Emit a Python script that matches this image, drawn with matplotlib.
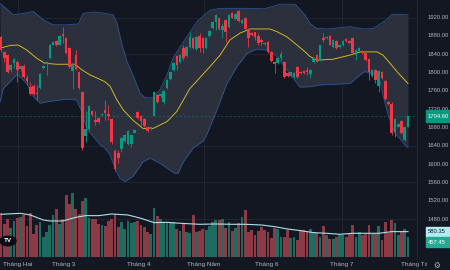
import numpy as np
import matplotlib
matplotlib.use("Agg")
import matplotlib.pyplot as plt
from matplotlib.transforms import blended_transform_factory
from matplotlib.patches import Rectangle, Circle

# daily candles (index 0 = first visible session)
opens = [1878, 1845, 1838, 1805, 1820, 1824, 1807, 1815, 1789, 1769,
         1771, 1756, 1767, 1809, 1818, 1832, 1861, 1869, 1861, 1883,
         1876, 1854, 1803, 1838, 1802, 1757, 1662, 1677, 1716, 1696,
         1700, 1708, 1718, 1709, 1698, 1629, 1624, 1633, 1651, 1643,
         1643, 1669, 1713, 1704, 1699, 1680, 1677, 1706, 1751, 1749,
         1736, 1766, 1786, 1806, 1835, 1822, 1853, 1835, 1856, 1876,
         1851, 1880, 1875, 1854, 1880, 1898, 1911, 1918, 1893, 1915,
         1900, 1929, 1917, 1934, 1907, 1920, 1896, 1886, 1888, 1880,
         1871, 1865, 1867, 1845, 1824, 1820, 1831, 1824, 1798, 1793,
         1791, 1813, 1802, 1803, 1806, 1796, 1822, 1838, 1827, 1875,
         1875, 1880, 1856, 1869, 1856, 1860, 1873, 1869, 1875, 1838,
         1848, 1847, 1842, 1830, 1793, 1806, 1771, 1802, 1781, 1736,
         1731, 1671, 1682, 1694, 1653, 1682]
highs = [1882, 1848, 1841, 1818, 1832, 1827, 1817, 1818, 1795, 1779,
         1774, 1773, 1799, 1817, 1825, 1862, 1869, 1871, 1882, 1899,
         1878, 1856, 1820, 1849, 1804, 1760, 1716, 1729, 1718, 1716,
         1702, 1712, 1740, 1729, 1700, 1632, 1631, 1660, 1666, 1674,
         1666, 1677, 1715, 1707, 1701, 1682, 1682, 1759, 1753, 1754,
         1762, 1786, 1802, 1822, 1838, 1840, 1860, 1858, 1889, 1878,
         1880, 1886, 1877, 1877, 1893, 1913, 1928, 1920, 1907, 1917,
         1928, 1931, 1930, 1936, 1917, 1922, 1898, 1888, 1889, 1886,
         1875, 1867, 1869, 1847, 1825, 1833, 1847, 1826, 1800, 1802,
         1800, 1815, 1804, 1805, 1813, 1808, 1833, 1840, 1861, 1886,
         1880, 1882, 1874, 1871, 1862, 1871, 1875, 1871, 1877, 1851,
         1856, 1849, 1844, 1832, 1808, 1808, 1805, 1804, 1783, 1738,
         1736, 1701, 1689, 1696, 1682, 1706]
lows = [1845, 1824, 1798, 1802, 1809, 1780, 1804, 1788, 1773, 1750,
        1751, 1740, 1765, 1807, 1795, 1830, 1859, 1858, 1859, 1864,
        1840, 1810, 1765, 1806, 1765, 1630, 1648, 1675, 1705, 1685,
        1689, 1706, 1696, 1696, 1645, 1584, 1602, 1627, 1649, 1641,
        1638, 1667, 1699, 1685, 1682, 1670, 1675, 1704, 1734, 1747,
        1731, 1764, 1784, 1804, 1806, 1820, 1827, 1833, 1853, 1851,
        1849, 1845, 1842, 1852, 1878, 1896, 1893, 1893, 1876, 1866,
        1898, 1918, 1915, 1910, 1905, 1894, 1856, 1880, 1871, 1861,
        1860, 1860, 1843, 1823, 1798, 1818, 1827, 1789, 1790, 1791,
        1789, 1789, 1796, 1797, 1795, 1789, 1820, 1822, 1825, 1867,
        1873, 1859, 1854, 1852, 1854, 1858, 1867, 1862, 1840, 1827,
        1846, 1841, 1825, 1784, 1791, 1776, 1758, 1785, 1740, 1729,
        1664, 1660, 1680, 1665, 1651, 1680]
closes = [1849, 1831, 1802, 1816, 1829, 1806, 1814, 1791, 1781, 1752,
          1754, 1754, 1797, 1815, 1822, 1860, 1867, 1860, 1880, 1880,
          1842, 1813, 1818, 1808, 1767, 1635, 1677, 1727, 1707, 1693,
          1691, 1710, 1712, 1706, 1648, 1589, 1613, 1658, 1664, 1672,
          1664, 1675, 1701, 1694, 1684, 1672, 1680, 1757, 1736, 1752,
          1760, 1784, 1800, 1820, 1816, 1838, 1832, 1856, 1878, 1853,
          1878, 1853, 1853, 1875, 1891, 1911, 1926, 1895, 1902, 1889,
          1926, 1920, 1928, 1912, 1915, 1896, 1876, 1882, 1878, 1864,
          1866, 1862, 1845, 1825, 1818, 1831, 1840, 1791, 1792, 1800,
          1798, 1791, 1798, 1799, 1802, 1806, 1831, 1824, 1859, 1870,
          1878, 1861, 1872, 1854, 1860, 1869, 1869, 1864, 1842, 1849,
          1854, 1843, 1827, 1802, 1806, 1784, 1803, 1787, 1742, 1731,
          1667, 1699, 1687, 1667, 1680, 1704.6]
volumes = [1000, 749, 871, 657, 825, 886, 909, 962, 710, 1000,
           520, 733, 810, 466, 566, 733, 962, 1092, 749, 871,
           1420, 1214, 1458, 1100, 978, 1283, 1344, 886, 871, 871,
           749, 733, 718, 825, 871, 985, 695, 794, 642, 825,
           772, 794, 825, 733, 695, 566, 527, 1130, 947, 871,
           794, 794, 794, 810, 642, 596, 749, 581, 560, 962,
           581, 596, 642, 619, 718, 794, 848, 848, 871, 657,
           794, 596, 672, 772, 924, 1077, 581, 619, 505, 596,
           695, 619, 581, 443, 657, 642, 466, 466, 619, 443,
           466, 390, 619, 619, 566, 642, 581, 543, 466, 710,
           505, 413, 413, 466, 505, 505, 466, 543, 733, 466,
           566, 505, 520, 733, 520, 527, 718, 390, 810, 543,
           848, 787, 505, 566, 642, 457.45]

# Bollinger bands (x = candle index)
bb_up_x = [-0.3, 3.8, 6.9, 10, 13, 16, 20, 23.8, 25.2, 28.4, 32, 34.4, 35.6, 37.2,
           38.7, 40.5, 42.7, 44.2, 46.7, 48.8, 51, 52.8, 55, 57.1, 60.2, 62.7, 64.2,
           67.3, 75, 81, 85.7, 90.3, 91.8, 93.4, 94.9, 97, 100.1, 107.2, 111.2, 114.3,
           118.5, 120, 125]
bb_up = [1951, 1926, 1929, 1933, 1915, 1904, 1904, 1906, 1929, 1932, 1929, 1926, 1908, 1860,
         1824, 1795, 1755, 1745, 1745, 1762, 1795, 1831, 1856, 1878, 1911, 1927, 1936,
         1940, 1940, 1939, 1949, 1949, 1938, 1925, 1907, 1896, 1895, 1900, 1895, 1896,
         1915, 1927, 1926]
bb_lo_x = [-0.3, 0.7, 2.8, 4.8, 5.8, 7.9, 10, 12, 14, 16, 18.1, 20.2, 23.2, 24.8, 26.3,
           28.4, 30.4, 31.9, 33.5, 35, 36.5, 38.1, 40.5, 43.6, 45.8, 48.8, 51.9, 53.4,
           54.4, 56, 59, 62, 63.2, 66.3, 69.4, 72.5, 75.6, 78.6, 81.7, 84.8, 87.8, 91.8,
           94.9, 98, 102, 107.2, 110.3, 111.8, 114.9, 116.4, 117.3, 118.9, 120, 121,
           122.5, 124, 125]
bb_lo = [1735, 1765, 1780, 1795, 1791, 1776, 1747, 1733, 1736, 1738, 1740, 1742, 1740, 1715, 1678,
         1660, 1643, 1635, 1620, 1591, 1569, 1562, 1573, 1605, 1613, 1602, 1587, 1580,
         1580, 1605, 1635, 1650, 1664, 1718, 1776, 1813, 1842, 1851, 1849, 1835, 1806, 1768,
         1769, 1773, 1774, 1776, 1795, 1802, 1795, 1780, 1751, 1707, 1685, 1667,
         1656, 1642, 1636]
bb_mid_x = [-0.3, 2.8, 5.3, 7.9, 11, 13.5, 17.1, 22.7, 24.8, 27.3, 30.4, 31.9, 33.5, 35.6,
            37.6, 40.5, 43.6, 46.7, 51, 54, 56, 58, 61.1, 64.2, 67.3, 70.3, 73.4, 76.5,
            79.5, 82.6, 84.8, 87.8, 90.9, 93.4, 94.9, 97, 102, 107.2, 110.3, 115.5, 117.3,
            119.5, 121.6, 125]
bb_mid = [1853, 1859, 1860, 1849, 1831, 1820, 1818, 1818, 1806, 1795, 1785, 1780, 1770, 1740,
          1718, 1696, 1678, 1678, 1693, 1715, 1740, 1765, 1789, 1813, 1838, 1871, 1886, 1895,
          1895, 1895, 1889, 1878, 1860, 1845, 1835, 1827, 1829, 1838, 1845, 1845, 1838,
          1820, 1802, 1776]

# volume moving average
vma_x = [0, 6, 9, 13, 15, 19, 23, 26, 30, 34, 39, 43, 47, 51, 55, 61, 66, 71, 75, 80,
         84, 88, 92, 96, 100, 104, 108, 112, 116, 120, 125]
vma = [978, 1000, 962, 848, 825, 825, 909, 947, 947, 985, 962, 886, 787, 794, 772, 749,
       756, 749, 749, 733, 695, 642, 604, 558, 543, 520, 543, 543, 543, 581, 580.35]

price_ticks = [1920, 1880, 1840, 1800, 1760, 1720, 1680, 1640, 1600, 1560, 1520, 1480]
grid_prices = [1920, 1840, 1640, 1560, 1480]
month_pos = [5.07, 19.35, 42.4, 62.3, 81.7, 104.7, 127.8]
month_labels = ["Tháng Hai", "Tháng 3", "Tháng 4", "Tháng Năm", "Tháng 6", "Tháng 7", "Tháng Tám"]
grid_months = [5.07, 62.35, 104.7]
last_price = 1704.6

BG = "#131722"
UP, DOWN = "#089981", "#f23645"
VUP, VDOWN = "#1e6b5f", "#8c3a46"
TXT = "#b2b5be"
FS = 4.25
plt.rcParams["font.family"] = ["Liberation Sans", "DejaVu Sans"]

W, H = 450, 270
PX = 3.256   # pixels per candle
fig = plt.figure(figsize=(4.5, 2.7), dpi=100, facecolor=BG)
ax = fig.add_axes([0, 13 / H, 417 / W, 257 / H])
ax.set_facecolor(BG)
ax.set_xlim(-1 / PX, 416 / PX)
ax.set_ylim(1397.4, 1958.2)
ax.axis("off")

for g in grid_prices:
    ax.axhline(g, color="#22262f", lw=0.7, zorder=0)
for g in grid_months:
    ax.axvline(g, color="#22262f", lw=0.7, zorder=0)

# bands
xs = np.linspace(-0.3, 125, 400)
ax.fill_between(xs, np.interp(xs, bb_lo_x, bb_lo), np.interp(xs, bb_up_x, bb_up),
                color="#2b303c", lw=0, zorder=1)
ax.plot(bb_up_x, bb_up, color="#2b5596", lw=0.6, zorder=2)
ax.plot(bb_lo_x, bb_lo, color="#2b5596", lw=0.6, zorder=2)
ax.plot(bb_mid_x, bb_mid, color="#e0c01c", lw=0.65, zorder=2)

ax.axhline(last_price, color=UP, lw=0.6, alpha=0.5, ls=(0, (2.5, 2.5)), zorder=2)

# candles
idx = np.arange(len(closes))
o, c = np.array(opens, float), np.array(closes, float)
col = [UP if cc >= oo else DOWN for oo, cc in zip(o, c)]
ax.vlines(idx, lows, highs, colors=col, lw=0.6, zorder=3)
ax.bar(idx, np.abs(c - o), bottom=np.minimum(o, c), width=0.8, color=col, lw=0, zorder=4)

# volume overlay
axv = ax.twinx()
axv.set_ylim(0, 257 * 22.9)
axv.axis("off")
vcol = [VUP if cc >= oo else VDOWN for oo, cc in zip(o, c)]
axv.bar(idx, volumes, width=0.86, color=vcol, lw=0, zorder=1)
axv.plot(vma_x, vma, color="#b0e0e8", lw=0.8, zorder=2)

# price scale
tr = blended_transform_factory(fig.transFigure, ax.transData)
for p in price_ticks:
    ax.text(428 / W, p, "%.2f" % p, transform=tr, color=TXT, fontsize=FS,
            va="center", ha="left", clip_on=False)
ax.add_patch(Rectangle((426 / W, last_price - 12.5), 30 / W, 25, transform=tr,
                       color=UP, clip_on=False, zorder=5))
ax.text(428 / W, last_price, "%.2f" % last_price, transform=tr, color="white",
        fontsize=FS, va="center", ha="left", clip_on=False, zorder=6)

trv = blended_transform_factory(fig.transFigure, axv.transData)
axv.add_patch(Rectangle((426 / W, vma[-1] - 115), 30 / W, 230, transform=trv,
                        color="#b2ebf2", clip_on=False, zorder=5))
axv.text(428 / W, vma[-1], "%.2f" % vma[-1], transform=trv, color="#131722",
         fontsize=FS, va="center", ha="left", clip_on=False, zorder=6)
axv.add_patch(Rectangle((426 / W, 221), 30 / W, 230, transform=trv,
                        color="#22ab94", clip_on=False, zorder=5))
axv.text(428 / W, 336, "%.2f" % volumes[-1], transform=trv, color="white",
         fontsize=FS, va="center", ha="left", clip_on=False, zorder=6)

fig.add_artist(plt.Line2D([417 / W, 417 / W], [0, 1], color="#262a35", lw=0.6))

# time scale
axt = fig.add_axes([0, 0, 427 / W, 13 / H])
axt.set_xlim(-1 / PX, 426 / PX)
axt.set_ylim(0, 1)
axt.axis("off")
for m, lab in zip(month_pos, month_labels):
    axt.text(m, 0.45, lab, color=TXT, fontsize=4.6, ha="center", va="center", clip_on=True)
fig.text(437 / W, 1 - 265 / H, "\u2699", family="DejaVu Sans", color=TXT,
         fontsize=5.5, ha="center", va="center")

# logo
fig.add_artist(Circle((8 / W, 1 - 241 / H), 8 / W, transform=fig.transFigure,
                      color="#0c0e14", zorder=10))
fig.text(8 / W, 1 - 241 / H, "TV", color="white", fontsize=4.5, fontweight="bold",
         ha="center", va="center", zorder=11)

fig.savefig("out.png", dpi=100, facecolor=BG)
